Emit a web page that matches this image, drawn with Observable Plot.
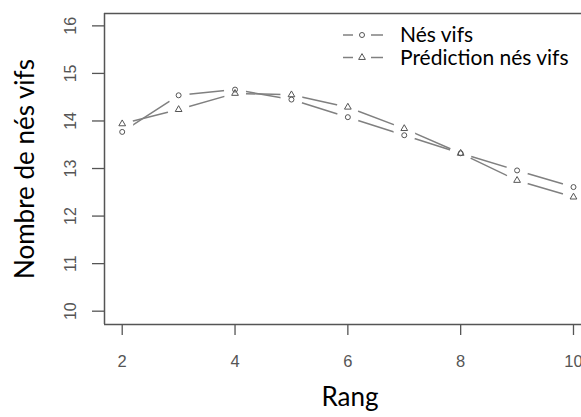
<!DOCTYPE html>
<html><head><meta charset="utf-8">
<script src="https://cdn.jsdelivr.net/npm/d3@7"></script>
<script src="https://cdn.jsdelivr.net/npm/@observablehq/plot@0.6"></script>
<style>html,body{margin:0;padding:0;background:#fff} svg{display:block}</style>
</head><body><div id="chart"></div>
<script>
const rang = [2, 3, 4, 5, 6, 7, 8, 9, 10];
const nesVifs = [13.77, 14.54, 14.66, 14.45, 14.08, 13.70, 13.32, 12.96, 12.61];
const prediction = [13.94, 14.24, 14.58, 14.55, 14.29, 13.84, 13.32, 12.75, 12.40];
const xTicks = [2, 4, 6, 8, 10];
const yTicks = [10, 11, 12, 13, 14, 15, 16];
const xLimits = [1.686, 10.314];
const yLimits = [9.72, 16.26];
const seriesNames = ["Nés vifs", "Prédiction nés vifs"];
const xTitle = "Rang";
const yTitle = "Nombre de nés vifs";

const obs = rang.map((r, i) => ({rang: r, value: nesVifs[i], serie: seriesNames[0]}));
const pred = rang.map((r, i) => ({rang: r, value: prediction[i], serie: seriesNames[1]}));
const all = obs.concat(pred);

const lineColor = "#808080";
const markColor = "#555";

const chart = Plot.plot({
  width: 581, height: 417,
  marginLeft: 104, marginRight: 0, marginTop: 13, marginBottom: 93,
  style: {fontFamily: "'Liberation Sans', Arial, sans-serif", fontSize: "16px", color: "#555", background: "#fff"},
  x: {domain: xLimits, range: [104, 590.7]},
  y: {domain: yLimits, range: [324, 13]},
  marks: [
    Plot.line(all, {x: "rang", y: "value", z: "serie", stroke: lineColor, strokeWidth: 1.5}),
    Plot.dot(all, {x: "rang", y: "value", r: 11, fill: "white", stroke: "none"}),
    Plot.dot(obs, {x: "rang", y: "value", symbol: "circle", r: 2.5, stroke: markColor, fill: "none", strokeWidth: 1}),
    Plot.dot(pred, {x: "rang", y: "value", symbol: "triangle", r: 2.5, stroke: markColor, fill: "none", strokeWidth: 1}),
    Plot.ruleY([yLimits[1], yLimits[0]], {stroke: "#555", strokeWidth: 1.5}),
    Plot.ruleX([xLimits[0]], {stroke: "#555", strokeWidth: 1.5}),
    Plot.axisY({ticks: yTicks, tickFormat: d3.format("d"), tickSize: 12, tickPadding: 17, tickRotate: -90, fontSize: 16, label: null, strokeWidth: 1.3}),
    Plot.axisX({ticks: xTicks, tickFormat: d3.format("d"), tickSize: 11, tickPadding: 20, fontSize: 16.5, label: null, strokeWidth: 1.3}),
    Plot.text([yTitle], {frameAnchor: "left", textAnchor: "middle", dx: -79, rotate: -90, fontSize: 26, fontFamily: "Lato", fill: "black"}),
    Plot.text([xTitle], {frameAnchor: "bottom", textAnchor: "middle", dx: 7, dy: 81, fontSize: 26, fontFamily: "Lato", fill: "black"})
  ]
});

// legend
const svg = d3.select(chart);
const lg = svg.append("g");
const legendRows = [
  {name: seriesNames[0], y: 35, sym: d3.symbolCircle},
  {name: seriesNames[1], y: 57.5, sym: d3.symbolTriangle}
];
legendRows.forEach(row => {
  lg.append("line").attr("x1", 343).attr("x2", 353).attr("y1", row.y).attr("y2", row.y)
    .attr("stroke", lineColor).attr("stroke-width", 1.5);
  lg.append("line").attr("x1", 371).attr("x2", 383).attr("y1", row.y).attr("y2", row.y)
    .attr("stroke", lineColor).attr("stroke-width", 1.5);
  lg.append("path").attr("d", d3.symbol(row.sym, Math.PI * 2.5 * 2.5)())
    .attr("transform", `translate(362,${row.y})`)
    .attr("fill", "none").attr("stroke", markColor).attr("stroke-width", 1);
  lg.append("text").attr("x", 400).attr("y", row.y).attr("dy", "0.35em")
    .attr("text-anchor", "start")
    .attr("font-family", "Lato").attr("font-size", 21).attr("fill", "black")
    .text(row.name);
});

document.getElementById("chart").appendChild(chart);
</script>
</body></html>
